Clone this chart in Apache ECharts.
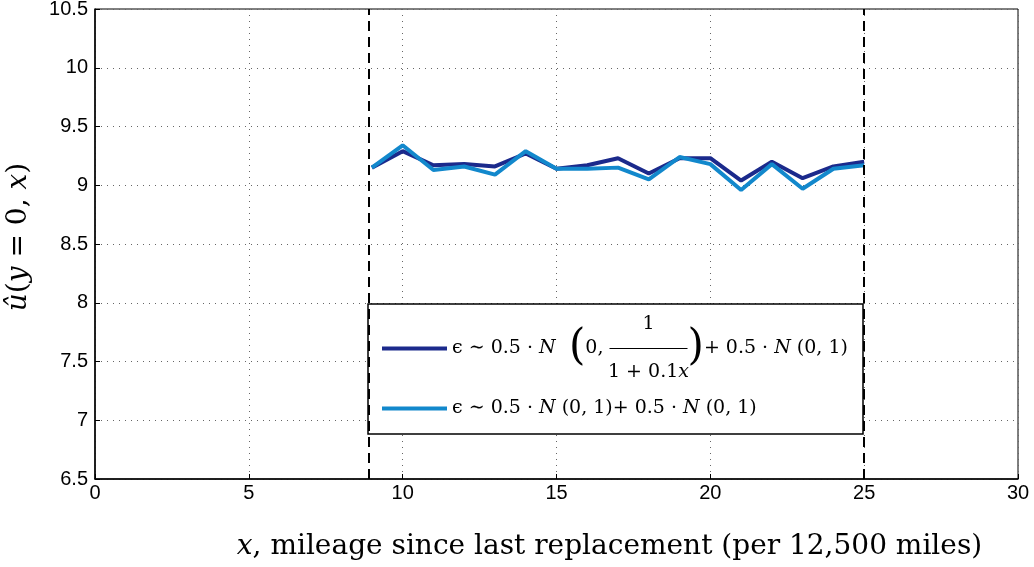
<!DOCTYPE html>
<html>
<head>
<meta charset="utf-8">
<script src="https://cdn.jsdelivr.net/npm/echarts@6/dist/echarts.min.js"></script>
<style>html,body{margin:0;padding:0;background:#fff}#c{width:1034px;height:567px}</style>
</head>
<body>
<div id="c"></div>
<script>
// data
const xValues = [9, 10, 11, 12, 13, 14, 15, 16, 17, 18, 19, 20, 21, 22, 23, 24, 25];
const heteroValues = [9.15, 9.29, 9.17, 9.18, 9.16, 9.27, 9.14, 9.17, 9.23, 9.10, 9.23, 9.23, 9.04, 9.20, 9.06, 9.16, 9.20];
const homoValues = [9.15, 9.34, 9.13, 9.16, 9.09, 9.29, 9.14, 9.14, 9.15, 9.05, 9.24, 9.18, 8.96, 9.18, 8.97, 9.14, 9.17];
const boundaryX = [8.9, 25];
const seriesNames = ['hetero', 'homo'];

const chart = echarts.init(document.getElementById('c'));
const serif = 'DejaVu Serif';
const fs = 19;
const bigFs = 42;
const lh = 24;
const barW = 78;

// text measurement for aligning the stacked fraction and sizing the legend box
const mctx = document.createElement('canvas').getContext('2d');
function mw(txt, size, italic) {
  mctx.font = (italic ? 'italic ' : '') + size + 'px "' + serif + '"';
  return mctx.measureText(txt).width;
}
const lead = mw('ϵ ∼ 0.5 · ', fs) + mw('N', fs, true) + mw(' (', bigFs) + mw('0, ', fs);
const numGap = lead + (barW - mw('1', fs)) / 2;
const denGap = lead + (barW - mw('1 + 0.1', fs) - mw('x', fs, true)) / 2;
const row1W = lead + barW + mw(')', bigFs) + mw('+ 0.5 · ', fs) + mw('N', fs, true) + mw(' (0, 1)', fs);
const row2W = mw('ϵ ∼ 0.5 · ', fs) + mw('N', fs, true) + mw(' (0, 1)+ 0.5 · ', fs) + mw('N', fs, true) + mw(' (0, 1)', fs);
const legendBoxW = 495;
const padR = Math.max(4, legendBoxW - 14 - 65 - 5 - Math.max(row1W, row2W));

const rich = {
  t: { fontFamily: serif, fontSize: fs, color: '#000', lineHeight: lh },
  i: { fontFamily: serif, fontSize: fs, fontStyle: 'italic', color: '#000', lineHeight: lh },
  big: { fontFamily: serif, fontSize: bigFs, color: '#000', lineHeight: lh, fontWeight: 'lighter' },
  gap: { width: numGap, lineHeight: lh },
  gap2: { width: denGap, lineHeight: lh },
  bar: { width: barW, height: 1, backgroundColor: '#000', lineHeight: lh }
};

function pairs(vals) { return xValues.map((x, k) => [x, vals[k]]); }

chart.setOption({
  animation: false,
  grid: { left: 95, right: 16, top: 9, bottom: 88, outerBoundsMode: 'none', containLabel: false,
    show: true, borderColor: '#000', borderWidth: 1, backgroundColor: 'transparent' },
  xAxis: {
    type: 'value', min: 0, max: 30, interval: 5,
    axisLine: { lineStyle: { color: '#000', width: 1.5 } },
    axisTick: { inside: true, length: 5, lineStyle: { color: '#000' } },
    axisLabel: { fontFamily: 'Liberation Sans', fontSize: 20, color: '#000', margin: 4 },
    splitLine: { show: true, lineStyle: { color: '#666', type: [1, 5], width: 1 } },
    name: '{i|x}{t|, mileage since last replacement (per 12,500 miles)}',
    nameLocation: 'middle', nameGap: 54,
    nameTextStyle: { padding: [0, 0, 0, 106], rich: {
      t: { fontFamily: serif, fontSize: 28, color: '#000' },
      i: { fontFamily: serif, fontSize: 28, fontStyle: 'italic', color: '#000' } } }
  },
  yAxis: {
    type: 'value', min: 6.5, max: 10.5, interval: 0.5,
    axisLine: { lineStyle: { color: '#000', width: 1.5 } },
    axisTick: { inside: true, length: 5, lineStyle: { color: '#000' } },
    axisLabel: { fontFamily: 'Liberation Sans', fontSize: 20, color: '#000', margin: 7 },
    splitLine: { show: true, lineStyle: { color: '#666', type: [1, 5], width: 1 } },
    name: '{i|û}{t|(}{i|y}{t| = 0, }{i|x}{t|)}',
    nameLocation: 'middle', nameGap: 62, nameRotate: 90,
    nameTextStyle: { padding: [0, 0, 0, 14], rich: {
      t: { fontFamily: serif, fontSize: 28, color: '#000' },
      i: { fontFamily: serif, fontSize: 28, fontStyle: 'italic', color: '#000' } } }
  },
  legend: {
    orient: 'vertical', left: 368, top: 304,
    padding: [11, padR, 16, 14],
    itemGap: 17, itemWidth: 65, itemHeight: 4,
    icon: 'rect',
    backgroundColor: '#fff', borderColor: '#000', borderWidth: 1.5, borderRadius: 0,
    data: seriesNames,
    formatter: function (n) {
      if (n === 'hetero') {
        return '{gap|}{t|1}\n' +
          '{t|ϵ ∼ 0.5 · }{i|N}{big| (}{t|0, }{bar|}{big|)}{t|+ 0.5 · }{i|N}{t| (0, 1)}\n' +
          '{gap2|}{t|1 + 0.1}{i|x}';
      }
      return '{t|ϵ ∼ 0.5 · }{i|N}{t| (0, 1)+ 0.5 · }{i|N}{t| (0, 1)}';
    },
    textStyle: { rich: rich }
  },
  series: [
    {
      name: 'hetero', type: 'line', data: pairs(heteroValues), showSymbol: false, symbol: 'none',
      lineStyle: { color: '#1b2a8c', width: 4 }, itemStyle: { color: '#1b2a8c' }, z: 3,
      markLine: {
        silent: true, symbol: 'none', label: { show: false },
        lineStyle: { color: '#000', type: [10, 6], width: 2 },
        data: boundaryX.map(v => ({ xAxis: v }))
      }
    },
    {
      name: 'homo', type: 'line', data: pairs(homoValues), showSymbol: false, symbol: 'none',
      lineStyle: { color: '#1288cc', width: 4 }, itemStyle: { color: '#1288cc' }, z: 4
    }
  ]
});
</script>
</body>
</html>
